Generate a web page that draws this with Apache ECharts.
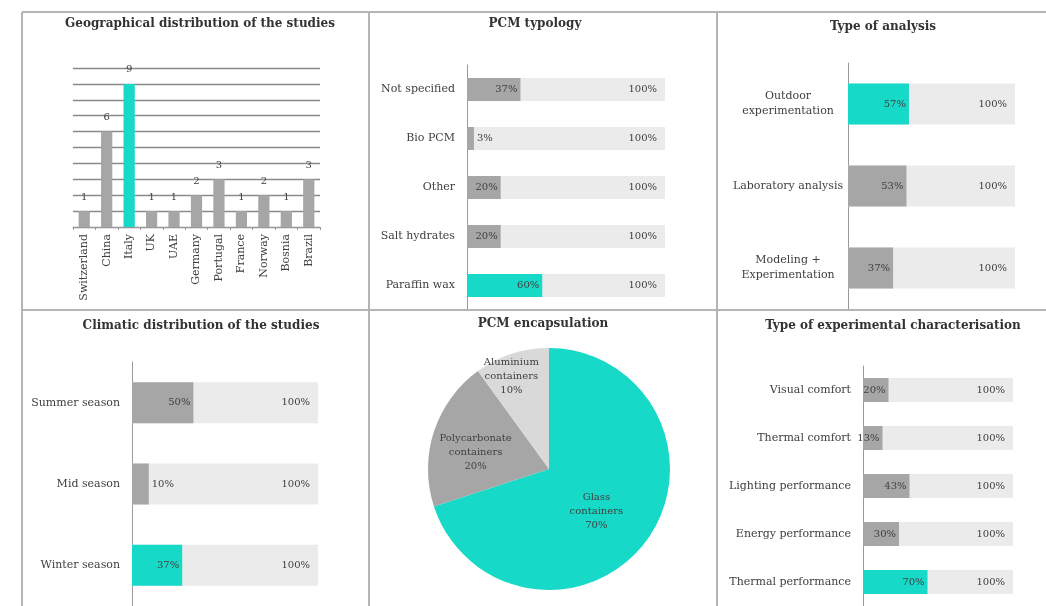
<!DOCTYPE html>
<html>
<head>
<meta charset="utf-8">
<script src="https://cdn.jsdelivr.net/npm/echarts@6/dist/echarts.min.js"></script>
<style>
html,body{margin:0;padding:0;background:#fff;}
#c{width:1046px;height:606px;}
</style>
</head>
<body>
<div id="c"></div>
<script>
// ---------- data ----------
const geoCountries = ['Switzerland','China','Italy','UK','UAE','Germany','Portugal','France','Norway','Bosnia','Brazil'];
const geoStudies = [1,6,9,1,1,2,3,1,2,1,3];
const geoHighlight = 'Italy';

const typologyCats = ['Not specified','Bio PCM','Other','Salt hydrates','Paraffin wax'];
const typologyShare = [37,3,20,20,60];          // printed percentage
const typologyBarLen = [27,3.5,17,17,38];       // drawn bar length, % of the 100% track
const typologyHighlight = 'Paraffin wax';

const analysisCats = ['Outdoor\nexperimentation','Laboratory analysis','Modeling +\nExperimentation'];
const analysisShare = [57,53,37];
const analysisBarLen = [36.5,35,27];
const analysisHighlight = 'Outdoor\nexperimentation';

const climateCats = ['Summer season','Mid season','Winter season'];
const climateShare = [50,10,37];
const climateBarLen = [33,9,27];
const climateHighlight = 'Winter season';

const encapNames = ['Glass\ncontainers','Polycarbonate\ncontainers','Aluminium\ncontainers'];
const encapShare = [70,20,10];

const charCats = ['Visual comfort','Thermal comfort','Lighting performance','Energy performance','Thermal performance'];
const charShare = [20,13,43,30,70];
const charBarLen = [17,13,31,24,43];
const charHighlight = 'Thermal performance';

const trackValue = 100;

// ---------- styles ----------
const CYAN = '#17d9c8';
const GRAY = '#a6a6a6';
const LIGHT = '#d9d9d9';
const TRACK = '#ebebeb';
const TXT = '#404040';
const FONT = 'DejaVu Serif';

const chart = echarts.init(document.getElementById('c'), null, {renderer:'canvas'});

const grids = [], xAxes = [], yAxes = [], series = [];

// geographic bar chart
grids.push({left:73, top:68, width:247, height:159});
xAxes.push({type:'category', gridIndex:0, data:geoCountries,
  axisLine:{lineStyle:{color:'#999', width:1}},
  axisTick:{show:true, length:3, lineStyle:{color:'#999'}},
  axisLabel:{rotate:90, color:TXT, fontFamily:FONT, fontSize:11, margin:7}});
yAxes.push({type:'value', gridIndex:0, min:0, max:10, interval:1,
  axisLabel:{show:false}, axisLine:{show:false}, axisTick:{show:false},
  splitLine:{lineStyle:{color:'#8a8a8a', width:1.4}}});
series.push({type:'bar', xAxisIndex:0, yAxisIndex:0, barWidth:'50%',
  data: geoStudies.map((v,i)=>({value:v, itemStyle:{color: geoCountries[i]===geoHighlight?CYAN:GRAY}})),
  label:{show:true, position:'top', distance:9, color:TXT, fontFamily:FONT, fontSize:10}});

function hbar(gi, grid, cats, lens, shares, hl, barW, labelMargin, labelAlign){
  grids.push(grid);
  xAxes.push({type:'value', gridIndex:gi, min:0, max:trackValue, show:false});
  yAxes.push({type:'category', gridIndex:gi, data:cats, inverse:true,
    axisLine:{lineStyle:{color:'#999', width:1}}, axisTick:{show:false},
    axisLabel:{color:TXT, fontFamily:FONT, fontSize:11, margin:labelMargin, align:labelAlign||'right', lineHeight:15}});
  series.push({type:'bar', xAxisIndex:gi, yAxisIndex:gi, barWidth:barW, silent:true,
    data: cats.map(()=>trackValue), itemStyle:{color:TRACK},
    label:{show:true, position:'insideRight', distance:8, formatter:'100%', color:TXT, fontFamily:FONT, fontSize:10}});
  series.push({type:'bar', xAxisIndex:gi, yAxisIndex:gi, barWidth:barW, barGap:'-100%',
    data: lens.map((v,i)=>({value:v,
      itemStyle:{color: cats[i]===hl?CYAN:GRAY},
      label:{position: v<12?'right':'insideRight', distance:3}})),
    label:{show:true, color:TXT, fontFamily:FONT, fontSize:10,
      formatter:(p)=>shares[p.dataIndex]+'%'}});
}

hbar(1, {left:467, top:65, width:198, height:245}, typologyCats, typologyBarLen, typologyShare, typologyHighlight, 23, 12);
hbar(2, {left:848, top:63, width:167, height:246}, analysisCats, analysisBarLen, analysisShare, analysisHighlight, 41, 60, 'center');
hbar(3, {left:132, top:362, width:186, height:247}, climateCats, climateBarLen, climateShare, climateHighlight, 41, 12);
hbar(4, {left:863, top:366, width:150, height:244}, charCats, charBarLen, charShare, charHighlight, 24, 12);

// pie
const pieColors = [CYAN, GRAY, LIGHT];
series.push({type:'pie', center:[549,469], radius:121, startAngle:90, clockwise:true,
  silent:true, animation:false,
  data: encapNames.map((n,i)=>({name:n, value:encapShare[i], itemStyle:{color:pieColors[i]},
    label:{offset: i===0?[-4,5]:(i===1?[-13,3]:[-18,-32])}})),
  label:{show:true, position:'inside', color:TXT, fontFamily:FONT, fontSize:10, lineHeight:14,
    formatter:(p)=>p.name+'\n'+p.value+'%'},
  labelLine:{show:false}});

const titleStyle = {fontFamily:FONT, fontWeight:'bold', fontSize:12, color:'#333'};
const titles = [
  {text:'Geographical distribution of the studies', left:200, top:18},
  {text:'PCM typology', left:535, top:18},
  {text:'Type of analysis', left:883, top:21},
  {text:'Climatic distribution of the studies', left:201, top:320},
  {text:'PCM encapsulation', left:543, top:318},
  {text:'Type of experimental characterisation', left:893, top:320}
].map(t=>Object.assign({textAlign:'center', padding:0, textStyle:titleStyle}, t));

const BORDER = {stroke:'#b4b4b4', lineWidth:2};
const lines = [
  [22,12,1046,12],[22,310,1046,310],
  [22,12,22,606],[369,12,369,606],[717,12,717,606]
].map(s=>({type:'line', shape:{x1:s[0],y1:s[1],x2:s[2],y2:s[3]}, style:BORDER, silent:true, z:100}));

chart.setOption({
  animation:false,
  backgroundColor:'#fff',
  title:titles,
  grid:grids,
  xAxis:xAxes,
  yAxis:yAxes,
  series:series,
  graphic:lines
});
</script>
</body>
</html>
